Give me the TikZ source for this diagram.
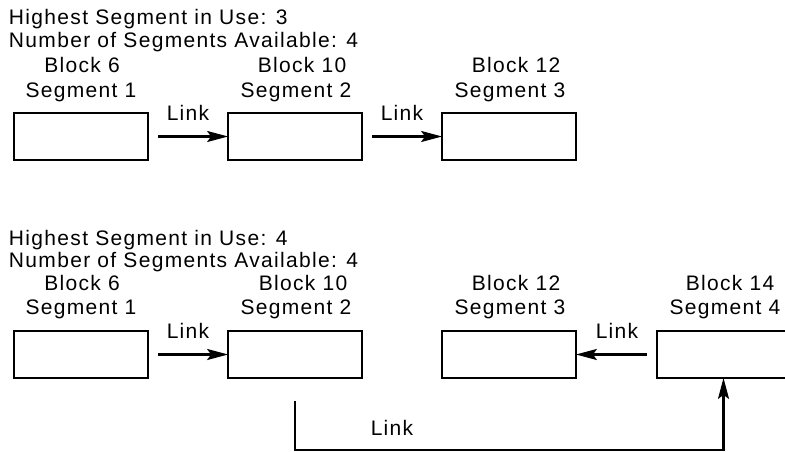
\documentclass[tikz,border=0pt]{standalone}
\usepackage{fontspec}
\setmainfont{Liberation Sans}[LetterSpace=6.3]
\usetikzlibrary{arrows.meta}
\tikzset{
  lbl/.style={inner sep=0pt, outer sep=0pt, font=\fontsize{21}{24}\selectfont, anchor=base},
  hdr/.style={lbl, anchor=base west},
  seg/.style={draw, line width=2.2pt, minimum width=133.8pt, minimum height=46.8pt, inner sep=0pt, outer sep=0pt},
  link/.style={line width=2.2pt, -{Stealth[length=21pt, width=11pt, inset=4pt]}}
}
\begin{document}
\begin{tikzpicture}[x=1pt, y=-1pt]
\useasboundingbox (0,0) rectangle (785,452);
\clip (0,0) rectangle (785,452);
% ---------- top ----------
\node[hdr] (h1) at (9,25) {Highest Segment in Use: 3};
\node[hdr] (h2) at (9,48) {Number of Segments Available: 4};
\node[lbl] (bk1) at (82,73) {Block 6};
\node[lbl] (sg1) at (81,97) {Segment 1};
\node[lbl] (bk2) at (302,73) {Block 10};
\node[lbl] (sg2) at (296,97) {Segment 2};
\node[lbl] (bk3) at (516,73) {Block 12};
\node[lbl] (sg3) at (510,97) {Segment 3};
\node[seg] (a1) at (81,136.5) {};
\node[seg] (a2) at (295,136.5) {};
\node[seg] (a3) at (509,136.5) {};
\draw[link] ([xshift=10pt]a1.east) -- (a2.west);
\draw[link] ([xshift=10pt]a2.east) -- (a3.west);
\node[lbl] (l1) at (188,121) {Link};
\node[lbl] (l2) at (402,121) {Link};
% ---------- bottom ----------
\node[hdr] (h3) at (9,245) {Highest Segment in Use: 4};
\node[hdr] (h4) at (9,267) {Number of Segments Available: 4};
\node[lbl] (ck1) at (82,290) {Block 6};
\node[lbl] (tg1) at (81,314) {Segment 1};
\node[lbl] (ck2) at (303,290) {Block 10};
\node[lbl] (tg2) at (296,314) {Segment 2};
\node[lbl] (ck3) at (516,290) {Block 12};
\node[lbl] (tg3) at (510,314) {Segment 3};
\node[lbl] (ck4) at (730,290) {Block 14};
\node[lbl] (tg4) at (725,314) {Segment 4};
\node[seg] (d1) at (81,354.5) {};
\node[seg] (d2) at (295,354.5) {};
\node[seg] (d3) at (509,354.5) {};
\node[seg] (d4) at (723.5,354.5) {};
\draw[link] ([xshift=10pt]d1.east) -- (d2.west);
\draw[link] ([xshift=-10pt]d4.west) -- (d3.east);
\node[lbl] (m1) at (188,338) {Link};
\node[lbl] (m2) at (617,338) {Link};
\coordinate (low) at (0,450);
\draw[link, line join=miter] ([yshift=-23pt]d2.south) -- (d2.south |- low) -- (d4.south |- low) -- (d4.south);
\node[lbl] (m3) at (392,435) {Link};
\end{tikzpicture}
\end{document}
